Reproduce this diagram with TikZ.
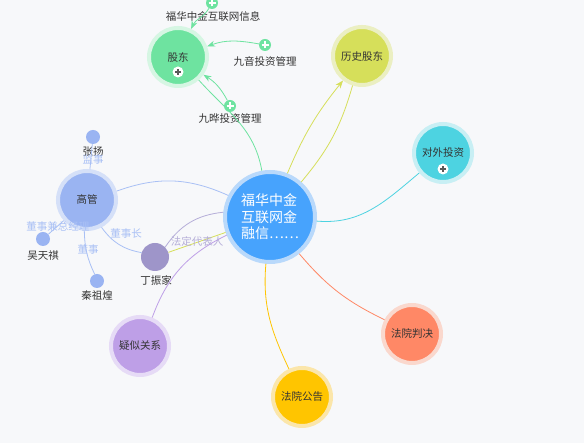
\documentclass[tikz,border=0pt]{standalone}
\usepackage{fontspec}
\setmainfont{Noto Sans CJK SC}
\usetikzlibrary{arrows.meta}

\definecolor{bgc}{HTML}{F7F8FA}
\definecolor{txt}{HTML}{333333}
\definecolor{cMain}{HTML}{47A3FD}
\definecolor{cMainR}{HTML}{B9D9FB}
\definecolor{cGd}{HTML}{6EE3A0}
\definecolor{cGdR}{HTML}{D6F6E3}
\definecolor{cLs}{HTML}{D6DF5A}
\definecolor{cLsR}{HTML}{EBEFC2}
\definecolor{cDw}{HTML}{4DD3E1}
\definecolor{cDwR}{HTML}{C8EFF4}
\definecolor{cGg}{HTML}{9AB4F2}
\definecolor{cGgR}{HTML}{D5E0F8}
\definecolor{cYs}{HTML}{BE9FE7}
\definecolor{cYsR}{HTML}{E6DBF6}
\definecolor{cGao}{HTML}{FFC500}
\definecolor{cGaoR}{HTML}{FBE6AA}
\definecolor{cPj}{HTML}{FF8866}
\definecolor{cPjR}{HTML}{FAD8CD}
\definecolor{cDing}{HTML}{9E95C9}
\definecolor{cRel}{HTML}{A9C0F5}
\definecolor{cFd}{HTML}{B5AED8}

\begin{document}
\begin{tikzpicture}[x=1pt, y=1pt,
    hub/.style={circle, inner sep=0pt, minimum size=58pt, line width=4pt,
        font=\fontsize{10.5}{12}\selectfont, text=txt},
    person/.style={circle, inner sep=0pt, minimum size=14pt, fill=cGg},
    lbl/.style={font=\fontsize{10.5}{12}\selectfont, text=txt, inner sep=1pt},
    rel/.style={font=\fontsize{10.5}{12}\selectfont, text=cRel, inner sep=1pt},
    link/.style={line width=0.8pt},
    tip/.style={-{Stealth[length=8pt,width=6pt]}},
    plusg/.style={circle, inner sep=0pt, minimum size=12pt, fill=cGd,
        path picture={\draw[white, line width=1.6pt]
            ([xshift=-3.5pt]path picture bounding box.center) -- ([xshift=3.5pt]path picture bounding box.center)
            ([yshift=-3.5pt]path picture bounding box.center) -- ([yshift=3.5pt]path picture bounding box.center);}},
    plusw/.style={circle, inner sep=0pt, minimum size=11pt, fill=white,
        path picture={\draw[black!65, line width=1.2pt]
            ([xshift=-3pt]path picture bounding box.center) -- ([xshift=3pt]path picture bounding box.center)
            ([yshift=-3pt]path picture bounding box.center) -- ([yshift=3pt]path picture bounding box.center);}}]

    % Background
    \fill[bgc] (0,0) rectangle (584,443);
    \useasboundingbox (0,0) rectangle (584,443);

    % Main company
    \node[circle, inner sep=0pt, minimum size=90pt, line width=4pt, fill=cMain, draw=cMainR,
        text=white, align=left, font=\fontsize{14}{16.5}\selectfont] (main) at (270,226)
        {福华中金\\互联网金\\融信……};

    % Category circles
    \node[hub, fill=cGd, draw=cGdR] (gudong) at (178,386) {股东};
    \node[hub, fill=cLs, draw=cLsR] (lishi) at (362,387) {历史股东};
    \node[hub, fill=cDw, draw=cDwR] (duiwai) at (443,290) {对外投资};
    \node[hub, fill=cGg, draw=cGgR] (gaoguan) at (87,243) {高管};
    \node[hub, fill=cYs, draw=cYsR] (yisi) at (140,97) {疑似关系};
    \node[hub, fill=cGao, draw=cGaoR] (gonggao) at (302,46) {法院公告};
    \node[hub, fill=cPj, draw=cPjR] (panjue) at (412,109) {法院判决};
    \node[plusw] (gdPlus) at (178,371) {};
    \node[plusw] (dwPlus) at (443,274) {};

    % Shareholders
    \node[plusg] (sh1) at (212,440) {};
    \node[lbl] (sh1T) at (213,426) {福华中金互联网信息};
    \node[plusg] (sh2) at (265,398) {};
    \node[lbl] (sh2T) at (265,382) {九音投资管理};
    \node[plusg] (sh3) at (230,337) {};
    \node[lbl] (sh3T) at (230,324) {九晔投资管理};

    % Managers
    \node[circle, inner sep=0pt, minimum size=28pt, fill=cDing] (ding) at (155,186) {};
    \node[lbl] (dingT) at (156,163) {丁振家};
    \node[person] (zhang) at (93,306) {};
    \node[lbl] (zhangT) at (93,291) {张扬};
    \node[person] (wu) at (43,204) {};
    \node[lbl] (wuT) at (43,187) {吴天祺};
    \node[person] (qin) at (97,162) {};
    \node[lbl] (qinT) at (97,147) {秦祖煌};

    % Links from the main company
    \draw[link, cGd] (gudong) to[out=-48, in=100] (main);
    \draw[link, cLs, tip] (main) to[bend left=8] (lishi);
    \draw[link, cLs] (lishi) to[bend left=12] (main);
    \draw[link, cDw] (main) to[out=-5, in=-140] (duiwai);
    \draw[link, cPj] (main) to[bend right=12] (panjue);
    \draw[link, cGao] (main) to[out=-95, in=115] (gonggao);
    \draw[link, cYs] (main) to[bend right=22] (yisi);
    \draw[link, cRel] (gaoguan) to[bend left=22] (main);
    \draw[link, cFd] (ding) to[bend left=25] (main);
    \draw[link, cLs] (ding) -- (main);

    % Links to shareholders
    \draw[link, cGd, tip] (sh1) to[out=-120, in=65] (gudong);
    \draw[link, cGd, tip] (sh2) to[out=170, in=20] (gudong);
    \draw[link, cGd, tip] (sh3) to[bend right=15] (gudong.-35);

    % Links to managers
    \draw[link, cRel] (gaoguan) -- (zhang);
    \draw[link, cRel] (gaoguan) -- (wu);
    \draw[link, cRel] (gaoguan) to[bend right=12] (qin);
    \draw[link, cRel] (gaoguan) to[bend right=22] (ding);

    % Relation labels
    \node[rel] (jianshi) at (93,283) {监事};
    \node[rel] (zongjingli) at (58,216) {董事兼总经理};
    \node[rel] (dongshi) at (88,193) {董事};
    \node[rel] (dongshizhang) at (126,209) {董事长};
    \node[rel, text=cFd] (fading) at (197,202) {法定代表人};
\end{tikzpicture}
\end{document}
